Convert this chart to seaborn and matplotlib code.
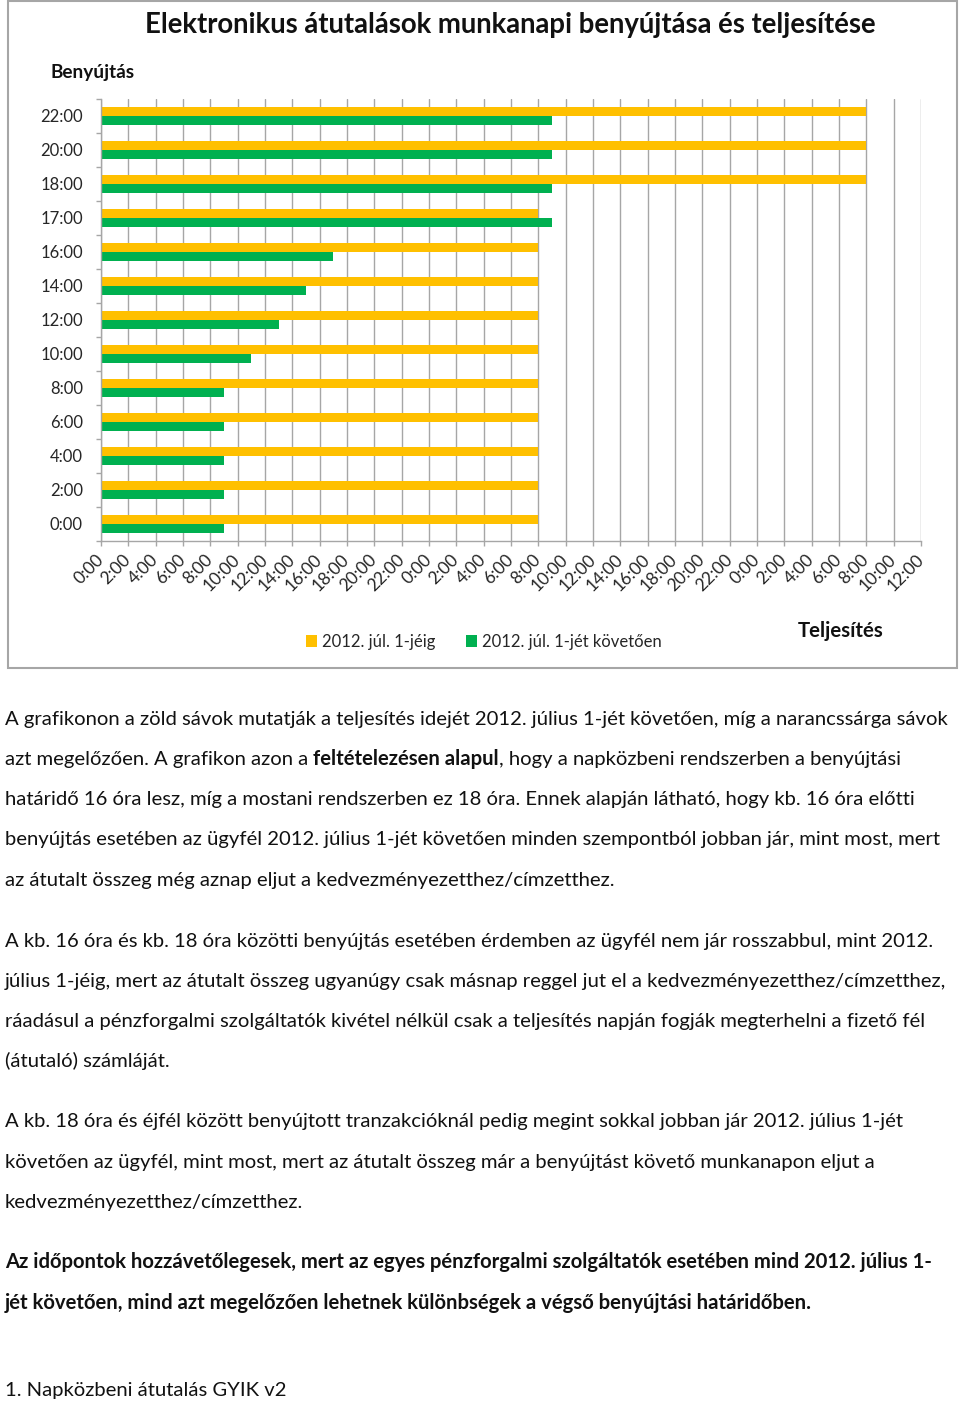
import matplotlib
matplotlib.use("Agg")
import matplotlib.pyplot as plt
import pandas as pd
import seaborn as sns
from matplotlib.patches import Rectangle

# benyújtás időpontja (0 = a benyújtás napjának éjfele), teljesítés órában
benyujtas = ["0:00", "2:00", "4:00", "6:00", "8:00", "10:00", "12:00",
             "14:00", "16:00", "17:00", "18:00", "20:00", "22:00"]
teljesites_regi = [32, 32, 32, 32, 32, 32, 32, 32, 32, 32, 56, 56, 56]
teljesites_uj = [9, 9, 9, 9, 9, 11, 13, 15, 17, 33, 33, 33, 33]
sorozatok = ["2012. júl. 1-jéig", "2012. júl. 1-jét követően"]
szinek = ["#FFC000", "#00B050"]

x_pos = [0, 2, 4, 6, 8, 10, 12, 14, 16, 18, 20, 22, 24, 26, 28, 30,
         32, 34, 36, 38, 40, 42, 44, 46, 48, 50, 52, 54, 56, 58, 60]
x_labels = ["0:00", "2:00", "4:00", "6:00", "8:00", "10:00", "12:00",
            "14:00", "16:00", "18:00", "20:00", "22:00",
            "0:00", "2:00", "4:00", "6:00", "8:00", "10:00", "12:00",
            "14:00", "16:00", "18:00", "20:00", "22:00",
            "0:00", "2:00", "4:00", "6:00", "8:00", "10:00", "12:00"]

cim = "Elektronikus átutalások munkanapi benyújtása és teljesítése"

# szöveg a grafikon alatt: (sor, alapvonal y pixelben, félkövér?)
sorok = [
    ("A grafikonon a zöld sávok mutatják a teljesítés idejét 2012. július 1-jét követően, míg a narancssárga sávok", 725, False),
    (None, 765, False),
    ("határidő 16 óra lesz, míg a mostani rendszerben ez 18 óra. Ennek alapján látható, hogy kb. 16 óra előtti", 805, False),
    ("benyújtás esetében az ügyfél 2012. július 1-jét követően minden szempontból jobban jár, mint most, mert", 845, False),
    ("az átutalt összeg még aznap eljut a kedvezményezetthez/címzetthez.", 886, False),
    ("A kb. 16 óra és kb. 18 óra közötti benyújtás esetében érdemben az ügyfél nem jár rosszabbul, mint 2012.", 947, False),
    ("július 1-jéig, mert az átutalt összeg ugyanúgy csak másnap reggel jut el a kedvezményezetthez/címzetthez,", 987, False),
    ("ráadásul a pénzforgalmi szolgáltatók kivétel nélkül csak a teljesítés napján fogják megterhelni a fizető fél", 1027, False),
    ("(átutaló) számláját.", 1067, False),
    ("A kb. 18 óra és éjfél között benyújtott tranzakcióknál pedig megint sokkal jobban jár 2012. július 1-jét", 1127, False),
    ("követően az ügyfél, mint most, mert az átutalt összeg már a benyújtást követő munkanapon eljut a", 1168, False),
    ("kedvezményezetthez/címzetthez.", 1208, False),
    ("Az időpontok hozzávetőlegesek, mert az egyes pénzforgalmi szolgáltatók esetében mind 2012. július 1-", 1268, True),
    ("jét követően, mind azt megelőzően lehetnek különbségek a végső benyújtási határidőben.", 1309, True),
    ("1. Napközbeni átutalás GYIK v2", 1396, False),
]
sor2 = ["azt megelőzően. A grafikon azon a", "feltételezésen alapul",
        ", hogy a napközbeni rendszerben a benyújtási"]

W, H = 960, 1402


def px(x, y):
    return x / W, 1 - y / H


sns.set_style("white")
plt.rcParams["font.family"] = ["Lato", "DejaVu Sans"]

fig = plt.figure(figsize=(W / 100, H / 100), dpi=100)
renderer = fig.canvas.get_renderer()

ax = fig.add_axes([101 / W, 1 - 541 / H, 820 / W, 442 / H])

df = pd.DataFrame({
    "Benyújtás": benyujtas + benyujtas,
    "Teljesítés": teljesites_regi + teljesites_uj,
    "Időszak": [sorozatok[0]] * len(benyujtas) + [sorozatok[1]] * len(benyujtas),
})

sns.barplot(data=df, y="Benyújtás", x="Teljesítés", hue="Időszak",
            order=benyujtas[::-1], hue_order=sorozatok, palette=szinek,
            orient="h", width=0.53, saturation=1, linewidth=0, ax=ax)

grey = "#A6A6A6"
ax.set_xlim(0, 60)
ax.set_xticks(x_pos, labels=x_labels)
plt.setp(ax.get_xticklabels(), rotation=45, ha="right", va="center",
         rotation_mode="anchor")
ax.tick_params(axis="x", length=3.6, width=1, color=grey, pad=8, labelsize=12.5,
               direction="out", bottom=True)
ax.xaxis.grid(True, color=grey, lw=1)
ax.set_axisbelow(True)

ax.set_yticks([i - 0.5 for i in range(len(benyujtas) + 1)], minor=True)
ax.tick_params(axis="y", which="major", length=0, pad=13, labelsize=12)
ax.tick_params(axis="y", which="minor", length=3.6, width=1, color=grey,
               direction="out", left=True)
ax.set_xlabel("")
ax.set_ylabel("")
for s in ["top", "right"]:
    ax.spines[s].set_visible(False)
for s in ["left", "bottom"]:
    ax.spines[s].set_color(grey)
    ax.spines[s].set_linewidth(1)

sns.move_legend(ax, "center left", bbox_to_anchor=px(306, 642),
                bbox_transform=fig.transFigure, ncol=2, frameon=False,
                title=None, fontsize=12, handlelength=0.68, handleheight=0.68,
                handletextpad=0.3, columnspacing=1.8, borderpad=0,
                borderaxespad=0)


def fit_text(x, y, s, width, size0=14, **kw):
    t = fig.text(*px(x, y), s, fontsize=size0, va="baseline", **kw)
    w = t.get_window_extent(renderer).width
    t.set_fontsize(size0 * width / w)
    return t


fit_text(145, 33, cim, 740, weight="bold", color="#111111")
fit_text(50, 78, "Benyújtás", 85, weight="bold", color="#111111")
fit_text(798, 637, "Teljesítés", 86, weight="bold", color="#111111")

# keret a grafikon körül
fig.add_artist(Rectangle(px(8, 668), 949 / W, 667 / H, fill=False,
                         edgecolor=grey, lw=1.5, transform=fig.transFigure))

# szöveg betűmérete az első sor szélességéből
probe = fig.text(0, 0, sorok[0][0], fontsize=14)
body = 14 * 948 / probe.get_window_extent(renderer).width
probe.remove()

for szoveg, y, bold in sorok:
    if szoveg is None:
        continue
    fig.text(*px(5, y), szoveg, fontsize=body, va="baseline",
             weight="bold" if bold else "normal", color="#111111")

# vegyes (félkövér) sor
space = (fig.text(0, 0, "a a", fontsize=body).get_window_extent(renderer).width
         - fig.text(0, 0, "aa", fontsize=body).get_window_extent(renderer).width)
for t in fig.texts[-2:]:
    t.remove()
x = 5
for i, (seg, w8) in enumerate(zip(sor2, ["normal", "bold", "normal"])):
    t = fig.text(*px(x, 765), seg, fontsize=body, va="baseline", weight=w8,
                 color="#111111")
    x = t.get_window_extent(renderer).x1
    if i == 0:
        x += space

fig.savefig("out.png", dpi=100)
